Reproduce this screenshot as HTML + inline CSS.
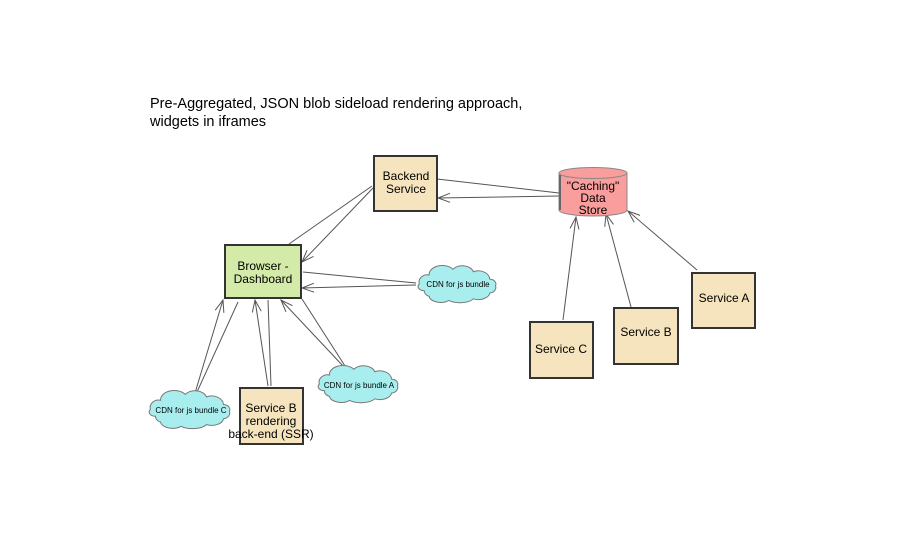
<!DOCTYPE html>
<html><head><meta charset="utf-8"><style>
html,body{margin:0;padding:0;background:#fff;}
svg{display:block;font-family:"Liberation Sans",Arial,sans-serif;}
</style></head><body>
<svg width="911" height="544" viewBox="0 0 911 544" xmlns="http://www.w3.org/2000/svg">
<defs>
<marker id="a" markerWidth="16" markerHeight="12" refX="13" refY="6" orient="auto" markerUnits="userSpaceOnUse" overflow="visible">
<polyline points="1,1.5 13,6 1,10.5" fill="none" stroke="#555" stroke-width="1"/>
</marker>
</defs>
<text x="150" y="108" font-size="14.5" fill="#000">Pre-Aggregated, JSON blob sideload rendering approach,</text>
<text x="150" y="126" font-size="14.5" fill="#000">widgets in iframes</text>

<g stroke="#555" stroke-width="1" fill="none">
<line x1="437" y1="179" x2="559" y2="193"/>
<line x1="559" y1="196" x2="438" y2="198" marker-end="url(#a)"/>
<line x1="289" y1="244" x2="372" y2="186"/>
<line x1="373" y1="188" x2="302" y2="262" marker-end="url(#a)"/>
<line x1="303" y1="272" x2="416" y2="283"/>
<line x1="416" y1="285" x2="302" y2="288" marker-end="url(#a)"/>
<line x1="195" y1="393" x2="223" y2="300" marker-end="url(#a)"/>
<line x1="238" y1="302" x2="197" y2="392"/>
<line x1="268" y1="386" x2="255" y2="300" marker-end="url(#a)"/>
<line x1="271" y1="386" x2="268" y2="300"/>
<line x1="344" y1="367" x2="281" y2="300" marker-end="url(#a)"/>
<line x1="302" y1="299" x2="345" y2="366"/>
<line x1="563" y1="320" x2="576" y2="217" marker-end="url(#a)"/>
<line x1="631" y1="307" x2="606" y2="214" marker-end="url(#a)"/>
<line x1="697" y1="270" x2="628" y2="211" marker-end="url(#a)"/>
</g>

<g stroke="#333" stroke-width="2">
<rect x="374" y="156" width="63" height="55" fill="#f5e4bd"/>
<rect x="225" y="245" width="76" height="53" fill="#d3eaa8"/>
<rect x="240" y="388" width="63" height="56" fill="#f5e4bd"/>
<rect x="530" y="322" width="63" height="56" fill="#f5e4bd"/>
<rect x="614" y="308" width="64" height="56" fill="#f5e4bd"/>
<rect x="692" y="273" width="63" height="55" fill="#f5e4bd"/>
</g>

<g font-size="12" fill="#000" text-anchor="middle">
<text x="406" y="180">Backend</text><text x="406" y="193">Service</text>
<text x="263" y="270">Browser -</text><text x="263" y="283">Dashboard</text>
<text x="271" y="412">Service B</text><text x="271" y="425">rendering</text><text x="271" y="438">back-end (SSR)</text>
<text x="561" y="353">Service C</text>
<text x="646" y="336">Service B</text>
<text x="724" y="302">Service A</text>
</g>

<g stroke="#888" stroke-width="1" fill="#f99d9d">
<path d="M559,173 L559,210 A34,6 0 0 0 627,210 L627,173"/>
<ellipse cx="593" cy="173" rx="34" ry="5.5"/>
</g>
<line x1="560" y1="175" x2="560" y2="210" stroke="#666" stroke-width="2"/>
<g font-size="12" fill="#000" text-anchor="middle">
<text x="593" y="190">"Caching"</text><text x="593" y="202">Data</text><text x="593" y="214">Store</text>
</g>

<g fill="#a9eeee" stroke="#777" stroke-width="1">
<path vector-effect="non-scaling-stroke" transform="translate(416,266) scale(0.82,0.82)" d="M4,22 A10,9 0 0 1 16,11 A16,11 0 0 1 45,4 A14,10 0 0 1 70,7 A14,11 0 0 1 90,16 A8,6 0 0 1 97,24 A8,7 0 0 1 90,33 A14,9 0 0 1 70,40 A18,8 0 0 1 40,42 A14,8 0 0 1 16,37 A9,7 0 0 1 10,30 A7,5 0 0 1 4,22 Z"/>
<path vector-effect="non-scaling-stroke" transform="translate(316,366) scale(0.84,0.82)" d="M4,22 A10,9 0 0 1 16,11 A16,11 0 0 1 45,4 A14,10 0 0 1 70,7 A14,11 0 0 1 90,16 A8,6 0 0 1 97,24 A8,7 0 0 1 90,33 A14,9 0 0 1 70,40 A18,8 0 0 1 40,42 A14,8 0 0 1 16,37 A9,7 0 0 1 10,30 A7,5 0 0 1 4,22 Z"/>
<path vector-effect="non-scaling-stroke" transform="translate(147,391) scale(0.85,0.84)" d="M4,22 A10,9 0 0 1 16,11 A16,11 0 0 1 45,4 A14,10 0 0 1 70,7 A14,11 0 0 1 90,16 A8,6 0 0 1 97,24 A8,7 0 0 1 90,33 A14,9 0 0 1 70,40 A18,8 0 0 1 40,42 A14,8 0 0 1 16,37 A9,7 0 0 1 10,30 A7,5 0 0 1 4,22 Z"/>
</g>
<g font-size="8" fill="#000" text-anchor="middle">
<text x="458" y="287">CDN for js bundle</text>
<text x="359" y="388">CDN for js bundle A</text>
<text x="191" y="413">CDN for js bundle C</text>
</g>
</svg>
</body></html>
